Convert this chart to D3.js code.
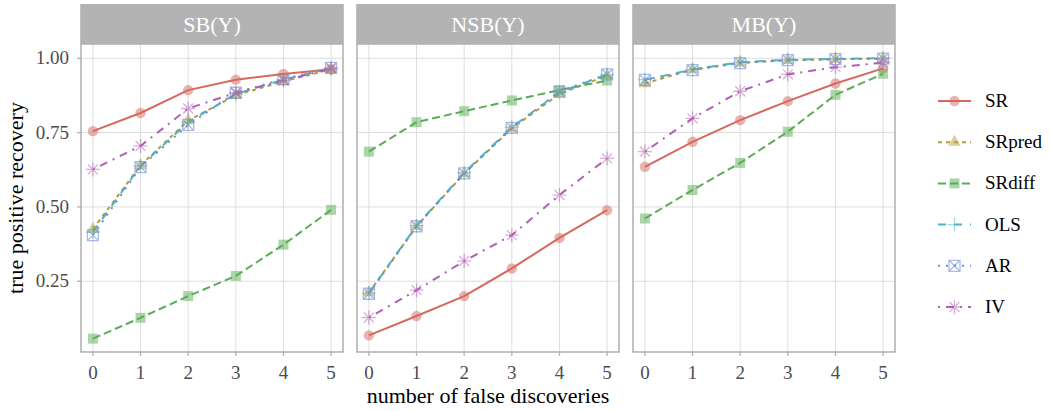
<!DOCTYPE html>
<html>
<head>
<meta charset="utf-8">
<script src="https://cdn.jsdelivr.net/npm/d3@7"></script>
<style>
  body { margin: 0; background: #fff; }
</style>
</head>
<body>
<div id="chart"></div>
<script>
// data: one row per panel (SB, NSB, MB), one value per number of false discoveries
const discoveries = [0, 1, 2, 3, 4, 5];
const panelNames = ["SB(Y)", "NSB(Y)", "MB(Y)"];
const methodNames = ["SR", "SRpred", "SRdiff", "OLS", "AR", "IV"];
const yTicks = [0.25, 0.50, 0.75, 1.00];

const srVals = [
    [0.755, 0.816, 0.893, 0.928, 0.947, 0.963],
    [0.068, 0.133, 0.200, 0.293, 0.396, 0.489],
    [0.635, 0.719, 0.792, 0.856, 0.915, 0.966]
];
const srpredVals = [
    [0.425, 0.640, 0.790, 0.876, 0.922, 0.963],
    [0.212, 0.435, 0.612, 0.764, 0.880, 0.942],
    [0.915, 0.963, 0.985, 0.993, 0.997, 0.999]
];
const srdiffVals = [
    [0.057, 0.127, 0.200, 0.268, 0.373, 0.490],
    [0.686, 0.785, 0.822, 0.858, 0.893, 0.925],
    [0.461, 0.557, 0.648, 0.753, 0.877, 0.948]
];
const olsVals = [
    [0.415, 0.638, 0.785, 0.880, 0.928, 0.968],
    [0.210, 0.437, 0.615, 0.768, 0.886, 0.945],
    [0.928, 0.962, 0.987, 0.995, 0.998, 1.000]
];
const arVals = [
    [0.405, 0.634, 0.776, 0.884, 0.930, 0.968],
    [0.208, 0.435, 0.613, 0.766, 0.888, 0.946],
    [0.927, 0.960, 0.984, 0.994, 0.997, 0.999]
];
const ivVals = [
    [0.626, 0.705, 0.831, 0.884, 0.925, 0.965],
    [0.128, 0.220, 0.318, 0.405, 0.540, 0.663],
    [0.686, 0.798, 0.889, 0.946, 0.970, 0.985]
];
const allVals = [srVals, srpredVals, srdiffVals, olsVals, arVals, ivVals];

// styles
const colors = ["#d6695e", "#b59d3b", "#59ad55", "#4bb5c1", "#6f8ed6", "#b15fb4"];
const dashes = [null, "4,4", "8,4", "8,8", "2,6", "2,6,8,6"];
const shapes = ["circle", "triangle", "square", "plus", "squarecross", "asterisk"];
const serif = "'Liberation Serif', 'DejaVu Serif', serif";

const width = 1050, height = 411;
const panelW = 262, panelH = 308, panelTop = 44, stripH = 40;
const panelLefts = [81, 357, 633];

const svg = d3.select("#chart").append("svg")
    .attr("width", width)
    .attr("height", height)
    .attr("font-family", serif);

const x = d3.scaleLinear().domain([-0.25, 5.25]).range([0, panelW]);
const y = d3.scaleLinear().domain([0.012, 1.048]).range([panelH, 0]);

function drawShape(g, shape, color) {
    if (shape == "circle") {
        g.append("circle").attr("r", 5.2).style("fill", color).style("fill-opacity", 0.5);
    } else if (shape == "triangle") {
        g.append("path").attr("d", d3.symbol(d3.symbolTriangle, 70)())
            .style("fill", color).style("fill-opacity", 0.5);
    } else if (shape == "square") {
        g.append("rect").attr("x", -5).attr("y", -5).attr("width", 10).attr("height", 10)
            .style("fill", color).style("fill-opacity", 0.5);
    } else if (shape == "plus") {
        g.append("path").attr("d", "M-7,0H7M0,-7V7")
            .style("stroke", color).style("stroke-opacity", 0.5).style("stroke-width", 1.3);
    } else if (shape == "squarecross") {
        g.append("path").attr("d", "M-5.5,-5.5H5.5V5.5H-5.5ZM-5.5,-5.5L5.5,5.5M5.5,-5.5L-5.5,5.5")
            .style("fill", "none").style("stroke", color).style("stroke-opacity", 0.6).style("stroke-width", 1.3);
    } else if (shape == "asterisk") {
        let r = 7, d = r * Math.SQRT1_2;
        g.append("path").attr("d", `M${-r},0H${r}M0,${-r}V${r}M${-d},${-d}L${d},${d}M${d},${-d}L${-d},${d}`)
            .style("stroke", color).style("stroke-opacity", 0.5).style("stroke-width", 1.3);
    }
}

let line = d3.line().x((d, i) => x(discoveries[i])).y(d => y(d));

panelNames.forEach((name, p) => {
    let g = svg.append("g")
        .attr("transform", "translate(" + panelLefts[p] + "," + panelTop + ")");

    // grid
    g.selectAll(".vgrid").data(discoveries).enter().append("line")
        .attr("x1", d => x(d)).attr("x2", d => x(d))
        .attr("y1", 0).attr("y2", panelH)
        .style("stroke", "#dedede").style("stroke-width", 1);
    g.selectAll(".hgrid").data(yTicks).enter().append("line")
        .attr("x1", 0).attr("x2", panelW)
        .attr("y1", d => y(d)).attr("y2", d => y(d))
        .style("stroke", "#dedede").style("stroke-width", 1);

    // lines
    allVals.forEach((vals, m) => {
        g.append("path")
            .attr("d", line(vals[p]))
            .style("fill", "none")
            .style("stroke", colors[m])
            .style("stroke-width", 2)
            .style("stroke-dasharray", dashes[m]);
    });

    // points
    allVals.forEach((vals, m) => {
        vals[p].forEach((v, i) => {
            let pg = g.append("g").attr("transform", "translate(" + x(discoveries[i]) + "," + y(v) + ")");
            drawShape(pg, shapes[m], colors[m]);
        });
    });

    // border
    g.append("rect")
        .attr("width", panelW).attr("height", panelH)
        .style("fill", "none").style("stroke", "#b3b3b3").style("stroke-width", 1.6);

    // strip
    g.append("rect")
        .attr("x", -0.8).attr("y", -stripH).attr("width", panelW + 1.6).attr("height", stripH)
        .style("fill", "#b3b3b3");
    g.append("text")
        .attr("x", panelW / 2).attr("y", -stripH / 2 + 7.5)
        .attr("text-anchor", "middle")
        .style("fill", "white").style("font-size", "22px")
        .text(name);

    // x axis ticks + labels
    g.selectAll(".xtick").data(discoveries).enter().append("line")
        .attr("x1", d => x(d)).attr("x2", d => x(d))
        .attr("y1", panelH).attr("y2", panelH + 4)
        .style("stroke", "#b3b3b3").style("stroke-width", 1.3);
    g.selectAll(".xlab").data(discoveries).enter().append("text")
        .attr("x", d => x(d)).attr("y", panelH + 27)
        .attr("text-anchor", "middle")
        .style("fill", "#4d4d4d").style("font-size", "19px")
        .text(d => d);

    if (p == 0) {
        g.selectAll(".ytick").data(yTicks).enter().append("line")
            .attr("x1", -4).attr("x2", 0)
            .attr("y1", d => y(d)).attr("y2", d => y(d))
            .style("stroke", "#b3b3b3").style("stroke-width", 1.3);
        g.selectAll(".ylab").data(yTicks).enter().append("text")
            .attr("x", -12).attr("y", d => y(d) + 6)
            .attr("text-anchor", "end")
            .style("fill", "#4d4d4d").style("font-size", "19px")
            .text(d => d3.format(".2f")(d));
    }
});

// axis titles
svg.append("text")
    .attr("x", 488).attr("y", 403)
    .attr("text-anchor", "middle")
    .style("font-size", "22px")
    .text("number of false discoveries");

svg.append("text")
    .attr("transform", "translate(23," + (panelTop + panelH / 2) + ") rotate(-90)")
    .attr("text-anchor", "middle")
    .style("font-size", "22px")
    .text("true positive recovery");

// legend
let legend = svg.append("g").attr("transform", "translate(938,101)");
methodNames.forEach((name, m) => {
    let lg = legend.append("g").attr("transform", "translate(0," + m * 41.2 + ")");
    lg.append("line")
        .attr("x1", 0).attr("x2", 33)
        .style("stroke", colors[m]).style("stroke-width", 2)
        .style("stroke-dasharray", dashes[m]);
    let pg = lg.append("g").attr("transform", "translate(16.5,0)");
    drawShape(pg, shapes[m], colors[m]);
    lg.append("text")
        .attr("x", 47).attr("y", 6)
        .style("font-size", "19px")
        .text(name);
});
</script>
</body>
</html>
